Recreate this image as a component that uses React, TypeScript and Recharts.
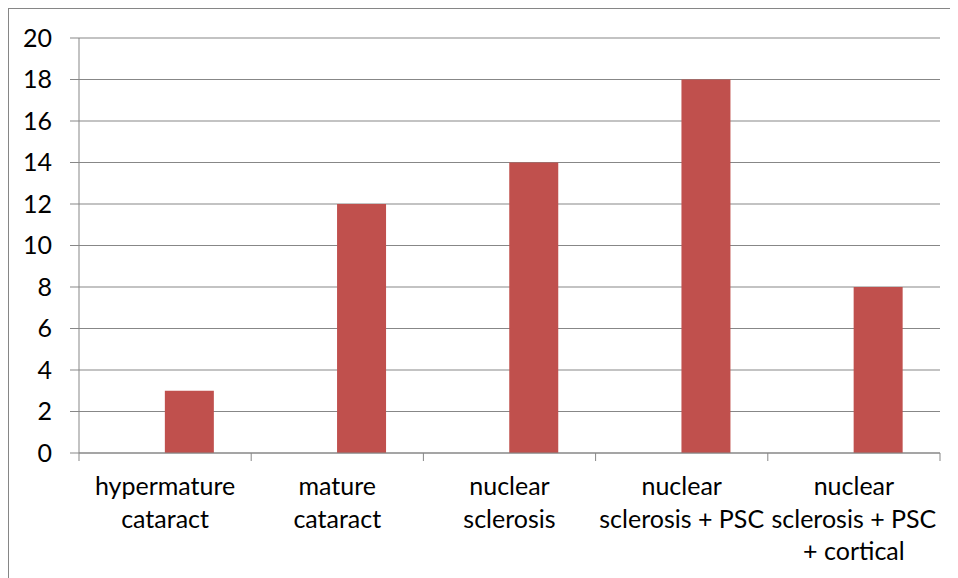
import { BarChart, Bar, XAxis, YAxis, CartesianGrid } from 'recharts';

// cataract type per category (line breaks as in the original labels)
const categories = [
  'hypermature\ncataract',
  'mature\ncataract',
  'nuclear\nsclerosis',
  'nuclear\nsclerosis + PSC',
  'nuclear\nsclerosis + PSC\n+ cortical',
];
// empty first series from the sheet, it only takes the left slot in each group
const blankSeries: (number | null)[] = [null, null, null, null, null];
const cataractCounts = [3, 12, 14, 18, 8];
const yTicks = [0, 2, 4, 6, 8, 10, 12, 14, 16, 18, 20];

const data = categories.map((name, i) => ({
  name,
  blank: blankSeries[i],
  count: cataractCounts[i],
}));

const GRID = '#878787';
const FONT = 'Lato, "Open Sans", sans-serif';

function CategoryTick(props: any) {
  const { x, y, payload, index, visibleTicksCount } = props;
  const half = payload.offset ?? 0;
  const lines = String(payload.value).split('\n');
  return (
    <g>
      <line x1={x - half} x2={x - half} y1={y} y2={y + 8} stroke={GRID} />
      {index === visibleTicksCount - 1 && (
        <line x1={x + half} x2={x + half} y1={y} y2={y + 8} stroke={GRID} />
      )}
      <text x={x} y={y + 42} textAnchor="middle" fontFamily={FONT} fontSize={25} fill="#000">
        {lines.map((line, i) => (
          <tspan key={i} x={x} dy={i === 0 ? 0 : 32.5}>
            {line}
          </tspan>
        ))}
      </text>
    </g>
  );
}

export default function App() {
  return (
    <div
      style={{
        width: 950,
        height: 570,
        boxSizing: 'border-box',
        borderLeft: '1px solid #868686',
        borderTop: '1px solid #868686',
        background: '#fff',
      }}
    >
      <BarChart
        width={949}
        height={569}
        data={data}
        margin={{ top: 29, right: 18, left: 10, bottom: 0 }}
        barCategoryGap="21.4%"
        barGap={0}
      >
        <CartesianGrid vertical={false} stroke={GRID} />
        <XAxis
          dataKey="name"
          height={125}
          interval={0}
          tickLine={false}
          tickSize={0}
          tickMargin={0}
          axisLine={{ stroke: GRID }}
          tick={<CategoryTick />}
        />
        <YAxis
          width={60}
          domain={[0, 20]}
          ticks={yTicks}
          interval={0}
          tickSize={9}
          tickMargin={18}
          axisLine={{ stroke: GRID }}
          tickLine={{ stroke: GRID }}
          tick={{ fill: '#000', fontSize: 25, fontFamily: FONT }}
        />
        <Bar dataKey="blank" fill="#4F81BD" isAnimationActive={false} />
        <Bar dataKey="count" fill="#C0504D" isAnimationActive={false} />
      </BarChart>
    </div>
  );
}
